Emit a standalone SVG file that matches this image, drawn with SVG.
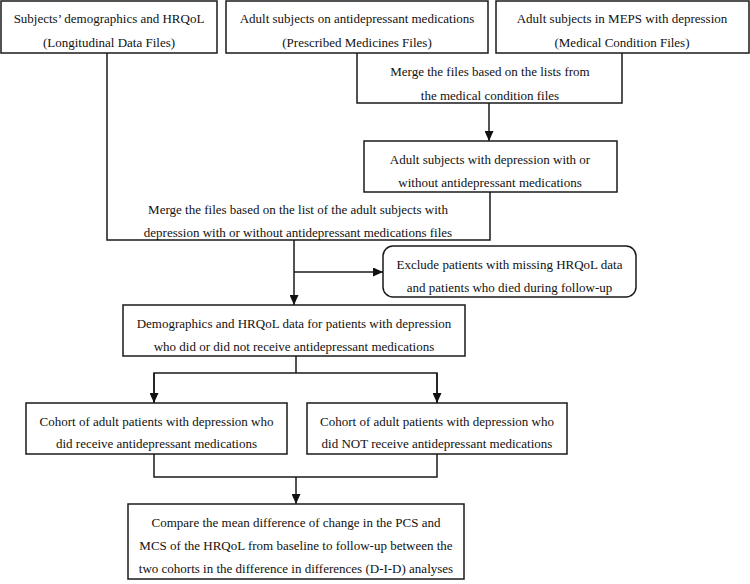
<svg xmlns="http://www.w3.org/2000/svg" width="750" height="584" viewBox="0 0 750 584">
<style>
.box{fill:#fff;stroke:#1a1a1a;stroke-width:1.5}
.ln{fill:none;stroke:#1a1a1a;stroke-width:1.5}
text{font-family:"Liberation Serif","Times New Roman",serif;font-size:13px;fill:#111;text-anchor:middle}
</style>
<defs>
<marker id="ah" markerUnits="userSpaceOnUse" markerWidth="10" markerHeight="9" refX="10" refY="4.5" orient="auto">
<path d="M0,0 L10,4.5 L0,9 z" fill="#111"/>
</marker>
</defs>
<rect width="750" height="584" fill="#fff"/>
<g id="connectors">
<path class="ln" d="M357,53 V103 H622 V53"/>
<path class="ln" d="M489,103 V141" marker-end="url(#ah)"/>
<path class="ln" d="M107,53 V240 H490 V192"/>
<path class="ln" d="M294,240 V305" marker-end="url(#ah)"/>
<path class="ln" d="M294,272 H383" marker-end="url(#ah)"/>
<path class="ln" d="M296,356 V373 M154,403 V373 H437 V403" />
<path class="ln" d="M154,373 V403" marker-end="url(#ah)"/>
<path class="ln" d="M437,373 V403" marker-end="url(#ah)"/>
<path class="ln" d="M154,454 V477 H437 V454"/>
<path class="ln" d="M296,477 V504" marker-end="url(#ah)"/>
</g>
<g id="n1">
<rect class="box" x="1" y="1" width="216" height="52"/>
<text x="109" y="22.5">Subjects’ demographics and HRQoL</text>
<text x="109" y="46.5">(Longitudinal Data Files)</text>
</g>
<g id="n2">
<rect class="box" x="226" y="1" width="262" height="52"/>
<text x="357" y="22.5">Adult subjects on antidepressant medications</text>
<text x="357" y="46.5">(Prescribed Medicines Files)</text>
</g>
<g id="n3">
<rect class="box" x="496" y="1" width="253" height="52"/>
<text x="622" y="22.5">Adult subjects in MEPS with depression</text>
<text x="622" y="46.5">(Medical Condition Files)</text>
</g>
<g id="merge1">
<text x="490" y="75.5">Merge the files based on the lists from</text>
<text x="490" y="99.5">the medical condition files</text>
</g>
<g id="n4">
<rect class="box" x="364" y="141" width="253" height="51"/>
<text x="490" y="163.5">Adult subjects with depression with or</text>
<text x="490" y="187">without antidepressant medications</text>
</g>
<g id="merge2">
<text x="298" y="213.5">Merge the files based on the list of the adult subjects with</text>
<text x="298" y="236.5">depression with or without antidepressant medications files</text>
</g>
<g id="exclude">
<rect class="box" x="383" y="246" width="253" height="51" rx="10" ry="10"/>
<text x="509.5" y="268.5">Exclude patients with missing HRQoL data</text>
<text x="509.5" y="291.5">and patients who died during follow-up</text>
</g>
<g id="n5">
<rect class="box" x="123" y="305" width="342" height="51"/>
<text x="294" y="327.5">Demographics and HRQoL data for patients with depression</text>
<text x="294" y="351">who did or did not receive antidepressant medications</text>
</g>
<g id="n6">
<rect class="box" x="26" y="403" width="261" height="51"/>
<text x="156.5" y="425.5">Cohort of adult patients with depression who</text>
<text x="156.5" y="448">did receive antidepressant medications</text>
</g>
<g id="n7">
<rect class="box" x="307" y="403" width="260" height="51"/>
<text x="437" y="425.5">Cohort of adult patients with depression who</text>
<text x="437" y="448">did NOT receive antidepressant medications</text>
</g>
<g id="n8">
<rect class="box" x="128" y="504" width="336" height="75"/>
<text x="296" y="526.5">Compare the mean difference of change in the PCS and</text>
<text x="296" y="549.5">MCS of the HRQoL from baseline to follow-up between the</text>
<text x="296" y="572.5">two cohorts in the difference in differences (D-I-D) analyses</text>
</g>
</svg>
